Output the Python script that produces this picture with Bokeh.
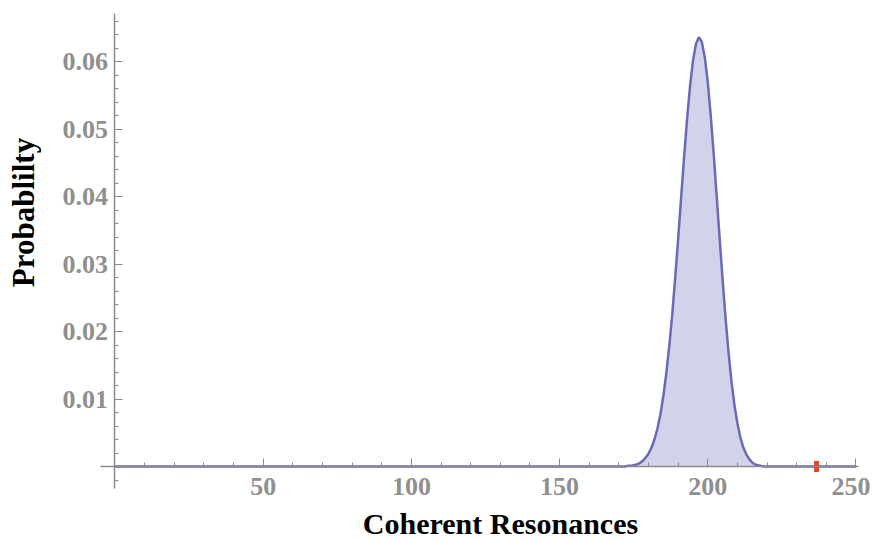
import math
from bokeh.plotting import figure
from bokeh.models import Range1d, FixedTicker, LinearAxis, Label
from bokeh.embed import file_html
from bokeh.resources import INLINE

# Data
resonances = [0] + list(range(172, 223)) + [250]
probability = [0.0,
    0.0000, 0.0001, 0.0001, 0.0002, 0.0003, 0.0005, 0.0008, 0.0013, 0.0019, 0.0028,
    0.0040, 0.0056, 0.0077, 0.0104, 0.0138, 0.0178, 0.0225, 0.0279, 0.0337, 0.0398,
    0.0458, 0.0514, 0.0563, 0.0601, 0.0626, 0.0636, 0.0629, 0.0606, 0.0569, 0.0520,
    0.0463, 0.0401, 0.0338, 0.0277, 0.0220, 0.0169, 0.0126, 0.0091, 0.0064, 0.0043,
    0.0028, 0.0018, 0.0011, 0.0006, 0.0003, 0.0002, 0.0001, 0.0000, 0.0000, 0.0000,
    0.0000,
    0.0]
marker_x = [236.7]
marker_y = [0.0]

x_ticks = [50, 100, 150, 200, 250]
y_ticks = [0.01, 0.02, 0.03, 0.04, 0.05, 0.06]
y_minor = [round(-0.002 + 0.002 * i, 4) for i in range(35)]
x_minor = list(range(0, 251, 10))
x_title = "Coherent Resonances"
y_title = "Probablilty"

W, H = 870, 540
p = figure(width=W, height=H, output_backend="svg", toolbar_location=None,
           x_range=Range1d(-38.63, 254.9), y_range=Range1d(-0.01096, 0.06904),
           x_axis_type=None, y_axis_type=None,
           min_border_left=0, min_border_right=0, min_border_top=0,
           min_border_bottom=0)
p.outline_line_color = None
p.background_fill_color = "white"
p.border_fill_color = "white"

# axes crossing at the origin
xaxis = LinearAxis(fixed_location=0, bounds=(-4.9, 250.8))
yaxis = LinearAxis(fixed_location=0, bounds=(-0.00326, 0.0671))
p.add_layout(xaxis, "below")
p.add_layout(yaxis, "left")
xaxis.ticker = FixedTicker(ticks=x_ticks, minor_ticks=x_minor)
yaxis.ticker = FixedTicker(ticks=y_ticks, minor_ticks=y_minor)
yaxis.major_label_overrides = {t: f"{t:.2f}" for t in y_ticks}
for ax in (xaxis, yaxis):
    ax.axis_line_color = "#8a8a8a"
    ax.axis_line_width = 1.5
    ax.major_tick_line_color = "#8a8a8a"
    ax.minor_tick_line_color = "#8a8a8a"
    ax.major_tick_in = 8
    ax.major_tick_out = 0
    ax.minor_tick_in = 4
    ax.minor_tick_out = 0
    ax.major_label_text_font = "Liberation Serif"
    ax.major_label_text_font_style = "bold"
    ax.major_label_text_font_size = "26px"
    ax.major_label_text_color = "#8f8f8f"
xaxis.major_label_standoff = 11
yaxis.major_label_standoff = 7

# axis titles
p.add_layout(Label(x=500, y=17, x_units="screen", y_units="screen",
                   text=x_title, text_align="center", text_baseline="alphabetic",
                   text_font="Liberation Serif", text_font_style="bold",
                   text_font_size="30px", text_color="black"))
p.add_layout(Label(x=23, y=H - 212, x_units="screen", y_units="screen",
                   angle=math.pi / 2, text=y_title, text_align="center",
                   text_baseline="alphabetic",
                   text_font="Liberation Serif", text_font_style="bold",
                   text_font_size="31px", text_color="black"))

p.varea(x=resonances, y1=0, y2=probability, fill_color="#6a6ab8", fill_alpha=0.3)
p.line(x=resonances, y=probability, line_color="#6a6ab8", line_width=2.5)
p.rect(x=marker_x, y=marker_y, width=5, height=11, width_units="screen",
       height_units="screen", fill_color="#e8432c", line_color=None)

open("out.html", "w").write(file_html(p, INLINE))
